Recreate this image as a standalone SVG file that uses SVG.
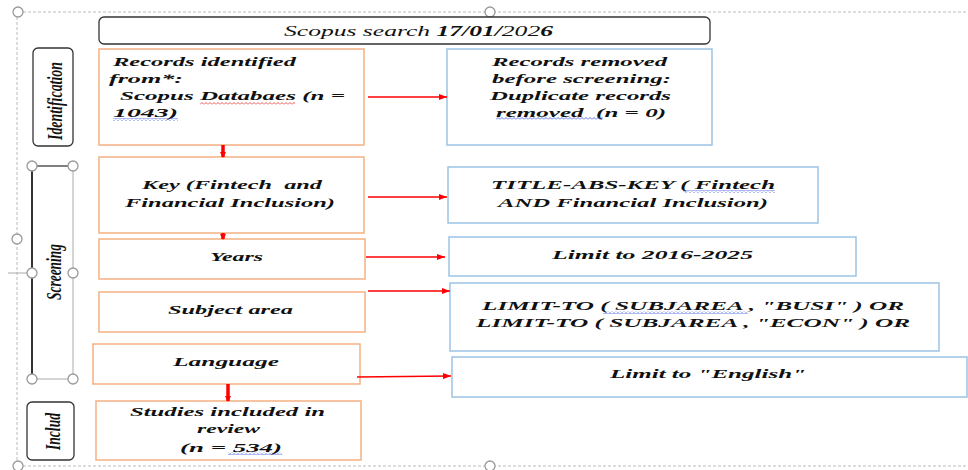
<svg xmlns="http://www.w3.org/2000/svg" width="968" height="470" viewBox="0 0 968 470">
<style>
.t{font-family:"Liberation Serif","Times New Roman",serif;font-style:italic;font-weight:bold;font-size:13px;fill:#111;white-space:pre}
.ti{font-family:"Liberation Serif","Times New Roman",serif;font-style:italic;font-size:15px;fill:#111}
.v{font-family:"Liberation Serif","Times New Roman",serif;font-style:italic;font-weight:bold;font-size:22px;fill:#111}
.ob{fill:#fff;stroke:#F4B183;stroke-width:1.5}
.bb{fill:#fff;stroke:#9DC3E6;stroke-width:1.5}
.lb{fill:#fff;stroke:#333;stroke-width:1.3}
.h{fill:#fff;stroke:#999;stroke-width:1.3}
.ar{stroke:#FF0000;stroke-width:1.4;fill:none;marker-end:url(#ah)}
.av{stroke:#FF0000;stroke-width:3.5;fill:none;marker-end:url(#ahv)}
.fr{stroke:#bbb;stroke-width:1;stroke-dasharray:3 2;fill:none}
</style>
<defs>
<marker id="ah" markerWidth="8" markerHeight="6" refX="8" refY="3" orient="auto" markerUnits="userSpaceOnUse"><path d="M0,0 L8,3 L0,6 Z" fill="#FF0000"/></marker>
<marker id="ahv" markerWidth="8" markerHeight="6" refX="5" refY="3" orient="auto" markerUnits="userSpaceOnUse"><path d="M0,0 L6,3 L0,6 Z" fill="#FF0000"/></marker>
<pattern id="wr" width="4" height="3" patternUnits="userSpaceOnUse"><path d="M0,2.5 L2,0.5 L4,2.5" fill="none" stroke="#E03030" stroke-width="0.8"/></pattern>
<pattern id="wb" width="4" height="3" patternUnits="userSpaceOnUse"><path d="M0,2.5 L2,0.5 L4,2.5" fill="none" stroke="#3050E0" stroke-width="0.8"/></pattern>
</defs>

<g id="frame">
<line class="fr" x1="18" y1="12" x2="968" y2="12"/>
<line class="fr" x1="17" y1="12" x2="17" y2="466"/>
<line class="fr" x1="18" y1="466" x2="968" y2="466"/>
<line x1="8" y1="273" x2="32" y2="273" stroke="#aaa" stroke-width="1"/>
<circle class="h" cx="18" cy="12" r="5"/>
<circle class="h" cx="490" cy="12" r="5"/>
<circle class="h" cx="17" cy="239" r="5"/>
<circle class="h" cx="18" cy="466" r="5"/>
<circle class="h" cx="490" cy="466" r="5"/>
</g>

<g id="title">
<rect class="lb" x="99" y="17" width="611" height="27" rx="5"/>
<text class="ti" x="284" y="36" textLength="269" lengthAdjust="spacingAndGlyphs">Scopus search <tspan font-weight="bold">17/01/</tspan>202<tspan font-weight="bold">6</tspan></text>
</g>

<g id="label-identification">
<rect class="lb" x="33" y="48" width="40" height="98" rx="5"/>
<text class="v" transform="translate(62,140) rotate(-90)" textLength="78" lengthAdjust="spacingAndGlyphs">Identification</text>
</g>

<g id="label-screening">
<line x1="32" y1="166" x2="73" y2="166" stroke="#555" stroke-width="1.3"/>
<line x1="32" y1="379" x2="73" y2="379" stroke="#aaa" stroke-width="1"/>
<line x1="32" y1="166" x2="32" y2="379" stroke="#333" stroke-width="2"/>
<line x1="73" y1="166" x2="73" y2="379" stroke="#aaa" stroke-width="1"/>
<text class="v" transform="translate(61,300) rotate(-90)" textLength="56" lengthAdjust="spacingAndGlyphs">Screening</text>
<circle class="h" cx="32" cy="166" r="5"/>
<circle class="h" cx="73" cy="166" r="5"/>
<circle class="h" cx="32" cy="273" r="5"/>
<circle class="h" cx="73" cy="273" r="5"/>
<circle class="h" cx="32" cy="379" r="5"/>
<circle class="h" cx="73" cy="379" r="5"/>
</g>

<g id="label-includ">
<rect class="lb" x="27" y="402" width="47" height="58" rx="5"/>
<text class="v" transform="translate(60,450) rotate(-90)" textLength="37" lengthAdjust="spacingAndGlyphs">Includ</text>
</g>

<g id="records-identified">
<rect class="ob" x="99" y="49" width="265" height="96"/>
<text class="t" x="113" y="66" textLength="183" lengthAdjust="spacingAndGlyphs">Records identified</text>
<text class="t" x="109" y="83" textLength="74" lengthAdjust="spacingAndGlyphs">from*:</text>
<text class="t" x="120" y="100" textLength="225" lengthAdjust="spacingAndGlyphs">Scopus Databaes (n =</text>
<text class="t" x="113" y="117" textLength="65" lengthAdjust="spacingAndGlyphs">1043)</text>
<rect x="200" y="102" width="95" height="3" fill="url(#wr)"/>
<rect x="113" y="118" width="65" height="3" fill="url(#wb)"/>
</g>

<g id="records-removed">
<rect class="bb" x="447" y="49" width="265" height="96"/>
<text class="t" x="492" y="66" textLength="175" lengthAdjust="spacingAndGlyphs">Records removed</text>
<text class="t" x="492" y="83" textLength="179" lengthAdjust="spacingAndGlyphs">before screening:</text>
<text class="t" x="490" y="100" textLength="181" lengthAdjust="spacingAndGlyphs">Duplicate records</text>
<text class="t" x="496" y="117" textLength="170" lengthAdjust="spacingAndGlyphs">removed  (n = 0)</text>
<rect x="496" y="117" width="107" height="3" fill="url(#wb)"/>
</g>

<g id="key">
<rect class="ob" x="99" y="157" width="265" height="76"/>
<text class="t" x="142" y="189" textLength="180" lengthAdjust="spacingAndGlyphs">Key (Fintech  and</text>
<text class="t" x="125" y="207" textLength="210" lengthAdjust="spacingAndGlyphs">Financial Inclusion)</text>
</g>

<g id="years">
<rect class="ob" x="99" y="239" width="266" height="40"/>
<text class="t" x="210" y="261" textLength="53" lengthAdjust="spacingAndGlyphs">Years</text>
</g>

<g id="subject-area">
<rect class="ob" x="99" y="292" width="266" height="40"/>
<text class="t" x="168" y="314" textLength="125" lengthAdjust="spacingAndGlyphs">Subject area</text>
</g>

<g id="language">
<rect class="ob" x="93" y="344" width="267" height="40"/>
<text class="t" x="173" y="366" textLength="106" lengthAdjust="spacingAndGlyphs">Language</text>
</g>

<g id="studies-included">
<rect class="ob" x="96" y="401" width="265" height="59"/>
<text class="t" x="130" y="416" textLength="195" lengthAdjust="spacingAndGlyphs">Studies included in</text>
<text class="t" x="197" y="433" textLength="63" lengthAdjust="spacingAndGlyphs">review</text>
<text class="t" x="180" y="452" textLength="102" lengthAdjust="spacingAndGlyphs">(n = 534)</text>
<rect x="228" y="452" width="54" height="3" fill="url(#wb)"/>
</g>

<g id="title-abs-key">
<rect class="bb" x="448" y="167" width="370" height="56"/>
<text class="t" x="491" y="189" textLength="284" lengthAdjust="spacingAndGlyphs">TITLE-ABS-KEY ( Fintech</text>
<text class="t" x="498" y="207" textLength="270" lengthAdjust="spacingAndGlyphs">AND Financial Inclusion)</text>
<rect x="683" y="190" width="92" height="3" fill="url(#wb)"/>
</g>

<g id="limit-years">
<rect class="bb" x="449" y="237" width="407" height="39"/>
<text class="t" x="552" y="259" textLength="201" lengthAdjust="spacingAndGlyphs">Limit to 2016-2025</text>
</g>

<g id="limit-subject">
<rect class="bb" x="450" y="283" width="489" height="68"/>
<text class="t" x="482" y="310" textLength="422" lengthAdjust="spacingAndGlyphs">LIMIT-TO ( SUBJAREA , "BUSI" ) OR</text>
<text class="t" x="476" y="327" textLength="434" lengthAdjust="spacingAndGlyphs">LIMIT-TO ( SUBJAREA , "ECON" ) OR</text>
<rect x="603" y="311" width="145" height="3" fill="url(#wb)"/>
</g>

<g id="limit-english">
<rect class="bb" x="452" y="357" width="515" height="40"/>
<text class="t" x="610" y="378" textLength="196" lengthAdjust="spacingAndGlyphs">Limit to "English"</text>
</g>

<g id="connectors">
<line class="ar" x1="368" y1="97" x2="447" y2="97"/>
<line class="ar" x1="368" y1="197" x2="447" y2="197"/>
<line class="ar" x1="366" y1="257" x2="445" y2="257"/>
<line class="ar" x1="368" y1="291" x2="450" y2="291"/>
<line class="ar" x1="357" y1="377" x2="451" y2="376"/>
<line class="av" x1="223" y1="145" x2="223" y2="157"/>
<line class="av" x1="223" y1="233" x2="223" y2="239"/>
<line class="av" x1="228" y1="384" x2="228" y2="401"/>
</g>
</svg>
